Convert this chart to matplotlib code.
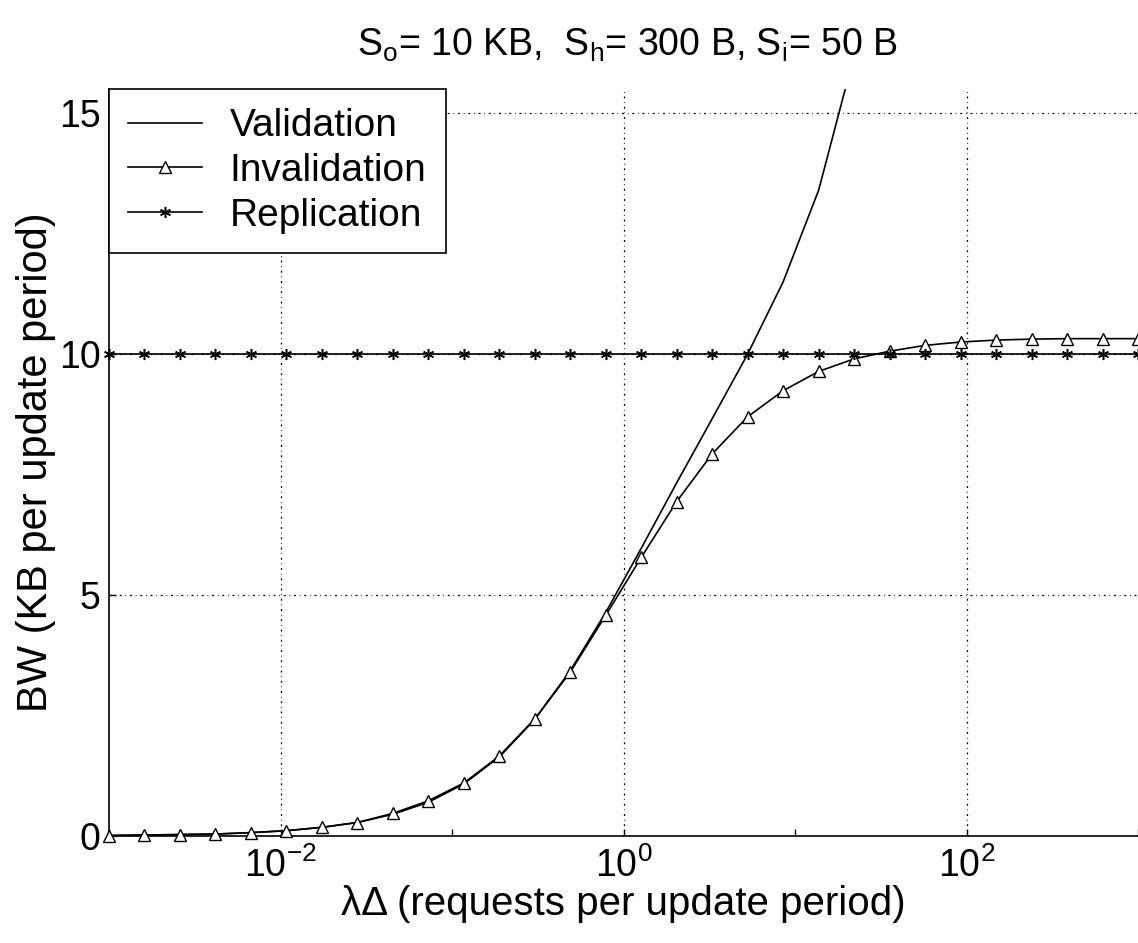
import matplotlib
matplotlib.use("Agg")
import matplotlib.pyplot as plt

plt.rcParams['font.family'] = ['Liberation Sans', 'DejaVu Sans']
plt.rcParams['mathtext.default'] = 'regular'

# request rate per update period (log-spaced sample points)
lam_delta = [0.001, 0.00161, 0.002593, 0.004175, 0.006723, 0.010826, 0.017433,
             0.028072, 0.045204, 0.07279, 0.11721, 0.18874, 0.30392, 0.48939,
             0.78805, 1.269, 2.0434, 3.2903, 5.2983, 8.5317, 13.738, 22.122,
             35.622, 57.362, 92.367, 148.74, 239.5, 385.66, 621.02, 1000.0]

# bandwidth in KB per update period
bw_validation = [0.01, 0.02, 0.03, 0.04, 0.07, 0.11, 0.18, 0.28, 0.45, 0.70,
                 1.08, 1.64, 2.42, 3.43, 4.64, 5.97, 7.33, 8.66, 10.0, 11.5,
                 13.4, 16.2, 20.4, 27.0, 37.6, 54.6, 81.8, 125.7, 196.3, 310.0]
bw_invalidation = [0.01, 0.02, 0.03, 0.04, 0.07, 0.11, 0.18, 0.28, 0.47, 0.73,
                   1.10, 1.66, 2.43, 3.40, 4.58, 5.78, 6.94, 7.93, 8.70, 9.24,
                   9.64, 9.90, 10.06, 10.18, 10.25, 10.29, 10.31, 10.32, 10.32, 10.32]
bw_replication = [10.0] * 30

series_names = ['Validation', 'Invalidation', 'Replication']

x_ticks = [1e-3, 1e-2, 1e-1, 1e0, 1e1, 1e2, 1e3]
x_tick_labels = ['', r'$10^{-2}$', '', r'$10^{0}$', '', r'$10^{2}$', '']
x_grid = [1e-2, 1e0, 1e2]
y_ticks = [0, 5, 10, 15]
y_grid = [5, 10, 15]

W, H = 1138, 943
fig = plt.figure(figsize=(W / 100, H / 100), dpi=100)
ax = fig.add_axes([109 / W, 107 / H, 1029 / W, 747 / H])

grid_style = dict(color='black', linewidth=0.9, linestyle=(0, (1.6, 3.0, 0.6, 3.0)), zorder=1)
for gx in x_grid:
    ax.axvline(gx, **grid_style)
for gy in y_grid:
    ax.axhline(gy, **grid_style)

ax.plot(lam_delta, bw_validation, color='black', linewidth=1.2,
        label=series_names[0], zorder=3)
ax.plot(lam_delta, bw_invalidation, color='black', linewidth=1.2,
        marker='^', markersize=8, markerfacecolor='white',
        markeredgecolor='black', markeredgewidth=1.0,
        label=series_names[1], zorder=4, clip_on=False)
ax.plot(lam_delta, bw_replication, color='black', linewidth=1.2,
        marker=(6, 2, 0), markersize=8, markeredgewidth=1.1,
        label=series_names[2], zorder=4, clip_on=False)

ax.set_xscale('log')
ax.set_xlim(1e-3, 1e3)
ax.set_ylim(0, 15.5)

ax.set_xticks(x_ticks)
ax.set_xticklabels(x_tick_labels)
ax.xaxis.set_minor_locator(matplotlib.ticker.NullLocator())
ax.set_yticks(y_ticks)
ax.set_yticklabels([str(v) for v in y_ticks])
ax.tick_params(direction='in', length=5, width=1.0, labelsize=27, pad=6)
ax.tick_params(axis='x', pad=8)

for side in ('top', 'right'):
    ax.spines[side].set_visible(False)
for side in ('left', 'bottom'):
    ax.spines[side].set_linewidth(1.2)

ax.set_xlabel('λΔ (requests per update period)', fontsize=29, labelpad=0)
ax.set_ylabel('BW (KB per update period)', fontsize=30, labelpad=2)

fig.text(0.551, 0.952, r'$S_o$= 10 KB,  $S_h$= 300 B, $S_i$= 50 B',
         ha='center', va='center', fontsize=27)

leg = ax.legend(loc='upper left', bbox_to_anchor=(0, 1), borderaxespad=0,
                fontsize=28, frameon=True, fancybox=False, framealpha=1,
                edgecolor='black', handlelength=1.9, handletextpad=0.7,
                labelspacing=0.22, borderpad=0.5, numpoints=1)
leg.get_frame().set_linewidth(1.2)
leg.set_zorder(10)

fig.savefig('out.png', dpi=100, facecolor='white')
